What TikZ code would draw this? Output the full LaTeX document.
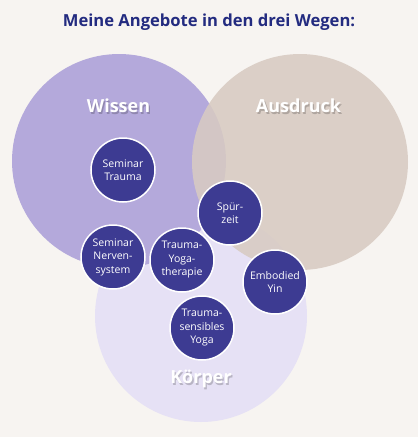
\documentclass[tikz,border=0pt]{standalone}
\usepackage{fontspec}
\setmainfont{Open Sans}
\definecolor{bgc}{HTML}{F7F4F1}
\definecolor{wissenc}{HTML}{B4A9DB}
\definecolor{ausdruckc}{HTML}{D8CBC2}
\definecolor{koerperc}{HTML}{E6E1F5}
\definecolor{dotc}{HTML}{3D3B92}
\definecolor{titlec}{HTML}{232B80}
\tikzset{
  offer/.style={circle, fill=dotc, draw=white, line width=1.5pt, minimum size=64pt, inner sep=0pt,
    text=white, align=center, font=\fontsize{10.5}{13.5}\selectfont},
  wayname/.style={text=white, font=\bfseries\fontsize{18}{22}\selectfont},
  wayshadow/.style={text=black, opacity=0.2, font=\bfseries\fontsize{18}{22}\selectfont},
}
\begin{document}
\begin{tikzpicture}[x=1pt,y=-1pt]
\fill[bgc] (0,0) rectangle (418,437);
\useasboundingbox (0,0) rectangle (418,437);
\node[text=titlec, font=\bfseries\fontsize{16.6}{20}\selectfont] (title) at (209,22) {Meine Angebote in den drei Wegen:};
\fill[koerperc] (201,316) circle[radius=106pt];
\fill[wissenc] (119,161) circle[radius=107pt];
\fill[ausdruckc, opacity=0.88] (300,162) circle[radius=108pt];
% labels with soft shadow
\node[wayshadow] at (119.8,107.5) {Wissen};
\node[wayname] (wissen) at (118.5,106) {Wissen};
\node[wayshadow] at (299.8,107.5) {Ausdruck};
\node[wayname] (ausdruck) at (298.5,106) {Ausdruck};
\node[wayshadow] at (202.3,380.5) {Körper};
\node[wayname] (koerper) at (201,379) {Körper};
% offers
\node[offer] (st) at (123,170) {Seminar\\Trauma};
\node[offer] (sz) at (230,213) {Spür-\\zeit};
\node[offer] (sn) at (113,257) {Seminar\\Nerven-\\system};
\node[offer] (ty) at (182,260) {Trauma-\\Yoga-\\therapie};
\node[offer] (ey) at (275,282) {Embodied\\Yin};
\node[offer] (tsy) at (202,328) {Trauma-\\sensibles\\Yoga};
\end{tikzpicture}
\end{document}
